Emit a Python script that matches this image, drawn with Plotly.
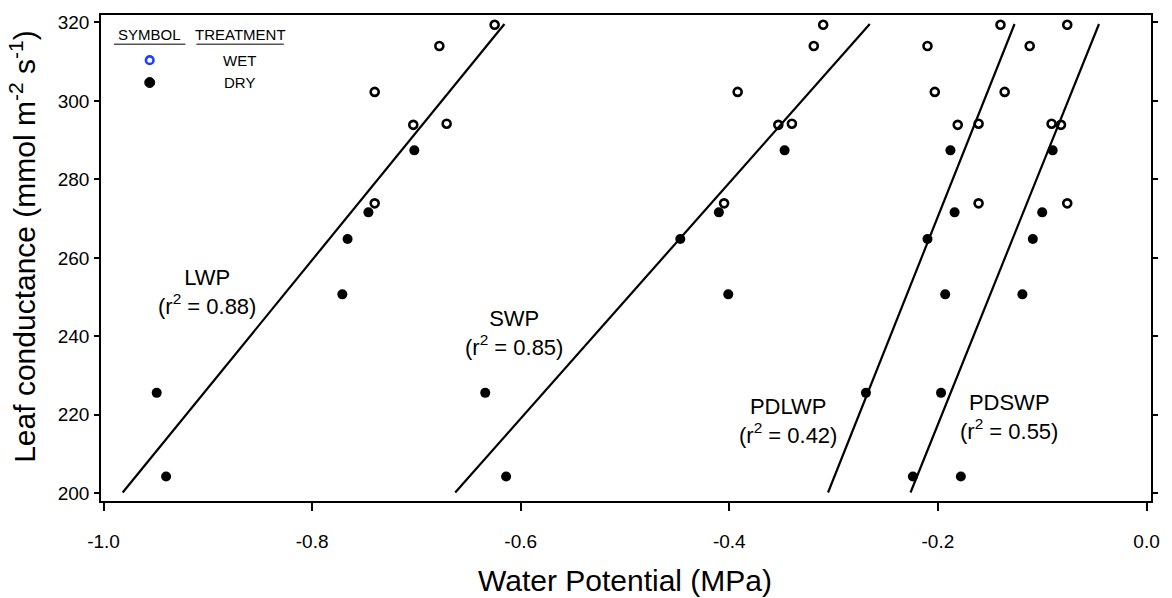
import plotly.graph_objects as go

# ---------------- data ----------------
groups = ["LWP", "SWP", "PDLWP", "PDSWP"]
r2_labels = ["0.88", "0.85", "0.42", "0.55"]

# leaf conductance (mmol m-2 s-1), shared by all four potentials
cond_wet = [319.4, 314.0, 302.3, 294.2, 293.9, 273.9]
cond_dry = [287.4, 271.6, 264.8, 250.7, 225.6, 204.3]

# water potentials (MPa)
lwp_wet = [-0.625, -0.678, -0.740, -0.671, -0.703, -0.740]
lwp_dry = [-0.702, -0.746, -0.766, -0.771, -0.949, -0.940]
swp_wet = [-0.310, -0.319, -0.392, -0.340, -0.353, -0.405]
swp_dry = [-0.347, -0.410, -0.447, -0.401, -0.634, -0.614]
pdlwp_wet = [-0.140, -0.210, -0.203, -0.161, -0.181, -0.161]
pdlwp_dry = [-0.188, -0.184, -0.210, -0.193, -0.269, -0.224]
pdswp_wet = [-0.076, -0.112, -0.136, -0.091, -0.082, -0.076]
pdswp_dry = [-0.090, -0.100, -0.109, -0.119, -0.197, -0.178]

# regression lines: conductance = intercept + slope * potential
fit_intercept = [520.4, 399.3, 404.1, 349.7]
fit_slope = [326.2, 300.4, 667.8, 660.8]
fit_cond_span = [200.2, 319.6]

wet_sets = [lwp_wet, swp_wet, pdlwp_wet, pdswp_wet]
dry_sets = [lwp_dry, swp_dry, pdlwp_dry, pdswp_dry]

# label positions (data coords)
label_x = [-0.9005, -0.6062, -0.3433, -0.1319]
label_y = [251.4, 240.8, 218.4, 219.5]

FONT = "Arial, Liberation Sans, Helvetica, sans-serif"

fig = go.Figure()

for a, b in zip(fit_intercept, fit_slope):
    xs = [(c - a) / b for c in fit_cond_span]
    fig.add_trace(go.Scatter(x=xs, y=fit_cond_span, mode="lines",
                             line=dict(color="black", width=2.2),
                             showlegend=False, hoverinfo="skip"))

for xs in wet_sets:
    fig.add_trace(go.Scatter(x=xs, y=cond_wet, mode="markers",
                             marker=dict(symbol="circle-open", size=8, color="black",
                                         line=dict(width=2.6, color="black")),
                             showlegend=False))
for xs in dry_sets:
    fig.add_trace(go.Scatter(x=xs, y=cond_dry, mode="markers",
                             marker=dict(symbol="circle", size=10, color="black"),
                             showlegend=False))

# dummy trace for the right-hand tick axis
fig.add_trace(go.Scatter(x=[None], y=[None], yaxis="y2", showlegend=False))

annotations = []
for name, r2, lx, ly in zip(groups, r2_labels, label_x, label_y):
    annotations.append(dict(x=lx, y=ly, xref="x", yref="y", showarrow=False,
                            text=f"{name}<br>(r<sup>2</sup> = {r2})",
                            xanchor="center", yanchor="middle",
                            font=dict(family=FONT, size=22, color="black"),
                            align="center"))

# axis titles
annotations.append(dict(x=0.4986, y=-0.163, xref="paper", yref="paper", showarrow=False,
                        text="Water Potential (MPa)", xanchor="center", yanchor="middle",
                        font=dict(family=FONT, size=30, color="black")))
annotations.append(dict(x=-0.0745, y=0.5246, xref="paper", yref="paper", showarrow=False,
                        text="Leaf conductance (mmol m<sup>-2</sup> s<sup>-1</sup>)",
                        textangle=-90, xanchor="center", yanchor="middle",
                        font=dict(family=FONT, size=30, color="black")))

# custom legend text
leg_font = dict(family=FONT, size=15, color="black")
for tx, px, py in [("SYMBOL", 0.0464, 0.960), ("TREATMENT", 0.1325, 0.960),
                   ("WET", 0.1315, 0.907), ("DRY", 0.1315, 0.861)]:
    annotations.append(dict(x=px, y=py, xref="paper", yref="paper", showarrow=False,
                            text=tx, xanchor="center", yanchor="middle", font=leg_font))

shapes = [
    dict(type="line", xref="paper", yref="paper", x0=0.0123, x1=0.0804, y0=0.940, y1=0.940,
         line=dict(color="black", width=1)),
    dict(type="line", xref="paper", yref="paper", x0=0.0908, x1=0.1741, y0=0.940, y1=0.940,
         line=dict(color="black", width=1)),
    # legend symbols
    dict(type="circle", xref="paper", yref="paper", xsizemode="pixel", ysizemode="pixel",
         xanchor=0.0464, yanchor=0.907, x0=-3.8, x1=3.8, y0=-3.8, y1=3.8,
         line=dict(color="#2040ff", width=2.6), fillcolor="white"),
    dict(type="circle", xref="paper", yref="paper", xsizemode="pixel", ysizemode="pixel",
         xanchor=0.0464, yanchor=0.861, x0=-5, x1=5, y0=-5, y1=5,
         line=dict(color="black", width=1), fillcolor="black"),
]

axis_common = dict(showgrid=False, zeroline=False, showline=True, linecolor="black",
                   linewidth=1.5, ticks="outside", tickcolor="black", tickwidth=1.5)

fig.update_layout(
    width=1172, height=598,
    margin=dict(l=101, r=14, t=13, b=97),
    plot_bgcolor="white", paper_bgcolor="white",
    font=dict(family=FONT, color="black"),
    showlegend=False,
    xaxis=dict(range=[-1.0024, 0.0043], tickvals=[-1.0, -0.8, -0.6, -0.4, -0.2, 0.0],
               ticktext=["-1.0", "-0.8", "-0.6", "-0.4", "-0.2", "0.0"],
               ticklen=8, mirror=True, ticklabelstandoff=14,
               tickfont=dict(family=FONT, size=19, color="black"), **axis_common),
    yaxis=dict(range=[198.04, 321.9], tickvals=[200, 220, 240, 260, 280, 300, 320],
               ticklen=5, mirror=True, ticklabelstandoff=1,
               tickfont=dict(family=FONT, size=19, color="black"), **axis_common),
    yaxis2=dict(range=[198.04, 321.9], overlaying="y", side="right",
                tickvals=[200, 220, 240, 260, 280, 300, 320], ticklen=5,
                showticklabels=False, **axis_common),
    annotations=annotations,
    shapes=shapes,
)

fig.write_html("out.html")
